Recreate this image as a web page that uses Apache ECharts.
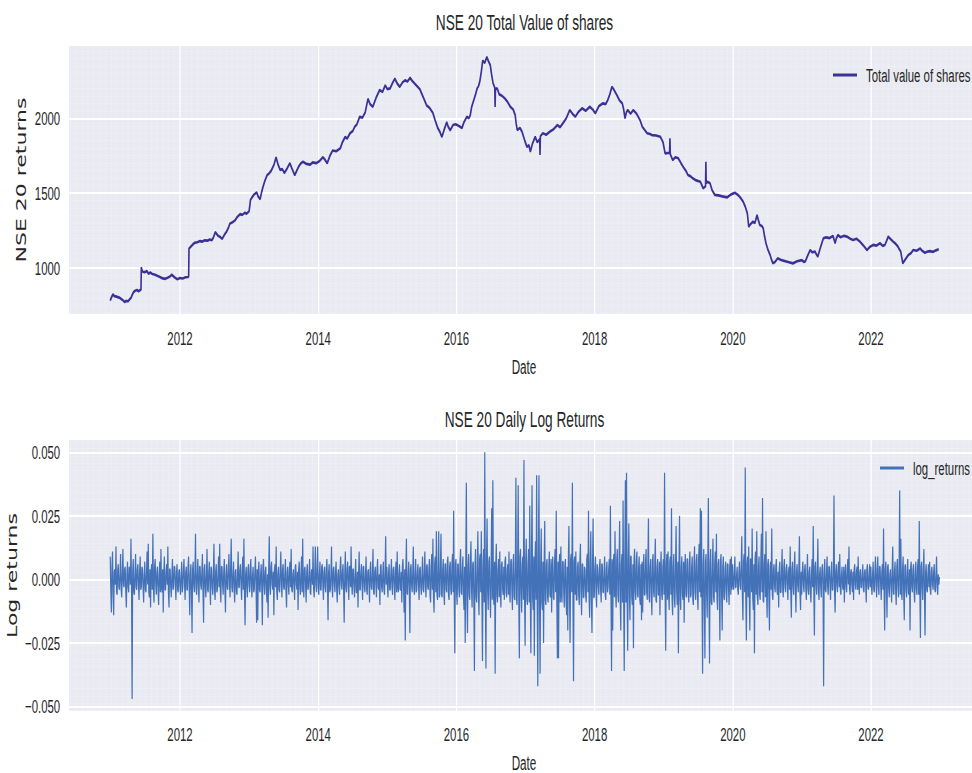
<!DOCTYPE html>
<html><head><meta charset="utf-8">
<script src="https://cdn.jsdelivr.net/npm/echarts@6/dist/echarts.min.js"></script>
<style>
html,body{margin:0;padding:0;background:#fff;overflow:hidden;width:972px;height:773px;}
#chart{width:1620px;height:773px;transform:scaleX(0.6);transform-origin:0 0;}
</style></head><body><div id="chart"></div>
<script>
// ---------------- data ----------------
const tvYears = [
2010.99,2011.00,2011.02,2011.03,2011.05,2011.07,2011.10,2011.13,2011.16,2011.20,
2011.22,2011.25,2011.27,2011.29,2011.31,2011.33,2011.35,2011.38,2011.40,2011.42,
2011.435,2011.44,2011.45,2011.46,2011.49,2011.52,2011.545,2011.57,2011.60,2011.64,
2011.67,2011.71,2011.74,2011.78,2011.82,2011.86,2011.88,2011.92,2011.96,2012.00,
2012.04,2012.08,2012.12,2012.125,2012.13,2012.15,2012.17,2012.195,2012.22,2012.25,
2012.29,2012.32,2012.36,2012.40,2012.43,2012.46,2012.48,2012.51,2012.53,2012.55,
2012.58,2012.61,2012.64,2012.67,2012.70,2012.72,2012.76,2012.80,2012.83,2012.87,
2012.90,2012.94,2012.96,2012.98,2013.00,2013.02,2013.04,2013.07,2013.11,2013.13,
2013.16,2013.18,2013.20,2013.23,2013.26,2013.29,2013.32,2013.36,2013.39,2013.42,
2013.45,2013.48,2013.51,2013.55,2013.59,2013.62,2013.66,2013.69,2013.72,2013.75,
2013.78,2013.83,2013.88,2013.92,2013.97,2014.02,2014.07,2014.10,2014.13,2014.17,
2014.21,2014.26,2014.32,2014.35,2014.39,2014.42,2014.46,2014.50,2014.53,2014.56,
2014.60,2014.64,2014.68,2014.70,2014.72,2014.75,2014.79,2014.84,2014.89,2014.93,
2014.97,2015.00,2015.04,2015.08,2015.11,2015.14,2015.18,2015.22,2015.26,2015.29,
2015.33,2015.36,2015.40,2015.43,2015.47,2015.52,2015.57,2015.61,2015.66,2015.69,
2015.73,2015.76,2015.79,2015.82,2015.86,2015.88,2015.91,2015.95,2015.99,2016.03,
2016.08,2016.11,2016.15,2016.18,2016.20,2016.22,2016.25,2016.28,2016.30,2016.32,
2016.34,2016.36,2016.38,2016.41,2016.44,2016.465,2016.49,2016.51,2016.53,2016.555,
2016.56,2016.565,2016.59,2016.62,2016.66,2016.70,2016.74,2016.78,2016.82,2016.85,
2016.865,2016.88,2016.92,2016.95,2016.99,2017.02,2017.05,2017.07,2017.10,2017.14,
2017.17,2017.205,2017.21,2017.215,2017.25,2017.30,2017.35,2017.40,2017.46,2017.50,
2017.54,2017.59,2017.64,2017.68,2017.72,2017.77,2017.82,2017.87,2017.93,2017.97,
2018.01,2018.06,2018.12,2018.16,2018.19,2018.22,2018.25,2018.28,2018.32,2018.36,
2018.40,2018.42,2018.44,2018.46,2018.48,2018.52,2018.56,2018.60,2018.63,2018.66,
2018.69,2018.72,2018.76,2018.80,2018.83,2018.89,2018.95,2018.99,2019.02,2019.085,
2019.09,2019.095,2019.13,2019.17,2019.21,2019.25,2019.28,2019.32,2019.35,2019.39,
2019.42,2019.47,2019.53,2019.55,2019.57,2019.605,2019.61,2019.615,2019.64,2019.67,
2019.70,2019.74,2019.79,2019.85,2019.92,2019.97,2020.03,2020.07,2020.11,2020.15,
2020.18,2020.21,2020.22,2020.23,2020.26,2020.29,2020.32,2020.35,2020.37,2020.39,
2020.42,2020.44,2020.46,2020.48,2020.51,2020.54,2020.56,2020.58,2020.61,2020.65,
2020.69,2020.73,2020.80,2020.87,2020.93,2021.00,2021.03,2021.05,2021.09,2021.12,
2021.15,2021.19,2021.21,2021.23,2021.27,2021.31,2021.35,2021.40,2021.45,2021.465,
2021.48,2021.50,2021.52,2021.56,2021.61,2021.65,2021.70,2021.74,2021.79,2021.84,
2021.89,2021.94,2021.98,2022.03,2022.08,2022.13,2022.17,2022.20,2022.22,2022.25,
2022.28,2022.32,2022.36,2022.39,2022.41,2022.43,2022.445,2022.46,2022.50,2022.54,
2022.58,2022.61,2022.66,2022.71,2022.74,2022.78,2022.82,2022.85,2022.90,2022.94,
2022.98
];
const tvValues = [
782,795,815,824,812,810,805,800,790,773,
780,778,790,800,822,840,848,853,845,852,
855,1005,985,975,972,980,962,970,960,955,
948,940,932,927,935,945,955,938,925,933,
930,938,940,945,1130,1140,1150,1162,1170,1172,
1180,1176,1185,1183,1190,1185,1200,1240,1228,1215,
1208,1195,1220,1240,1268,1295,1305,1320,1342,1360,
1355,1370,1362,1370,1380,1455,1470,1490,1505,1478,
1460,1505,1540,1585,1620,1632,1650,1690,1740,1690,
1655,1660,1635,1665,1700,1665,1620,1650,1680,1700,
1710,1695,1690,1705,1700,1715,1740,1722,1700,1750,
1785,1780,1800,1840,1875,1865,1900,1915,1945,1960,
2010,2005,2040,2085,2130,2095,2077,2140,2190,2175,
2220,2195,2200,2240,2265,2235,2210,2240,2255,2245,
2270,2250,2230,2215,2195,2140,2085,2070,2035,1990,
1935,1910,1875,1920,1975,1945,1920,1955,1960,1950,
1935,1975,2010,2000,2020,2075,2120,2165,2200,2215,
2250,2310,2385,2370,2410,2380,2355,2290,2235,2205,
2076,2195,2200,2160,2150,2133,2110,2077,2060,2022,
1965,1922,1935,1910,1850,1810,1820,1777,1830,1877,
1840,1860,1755,1880,1900,1890,1910,1925,1955,1940,
1966,2000,2055,2030,2011,2045,2067,2050,2077,2060,
2033,2080,2100,2095,2122,2160,2211,2190,2156,2120,
2100,2060,2000,2040,2055,2030,2055,2035,2011,1985,
1944,1925,1900,1895,1888,1885,1877,1840,1766,1770,
1866,1760,1721,1740,1733,1700,1677,1650,1621,1612,
1599,1585,1576,1555,1532,1545,1710,1570,1575,1566,
1520,1488,1485,1478,1472,1490,1503,1490,1470,1443,
1410,1365,1320,1276,1295,1309,1300,1354,1320,1287,
1280,1265,1210,1165,1120,1087,1055,1031,1040,1065,
1055,1049,1040,1031,1045,1053,1040,1045,1090,1120,
1105,1109,1090,1076,1140,1198,1205,1200,1214,1190,
1165,1200,1220,1205,1215,1210,1195,1187,1195,1176,
1150,1120,1140,1154,1150,1165,1148,1154,1175,1210,
1195,1176,1160,1143,1125,1109,1070,1031,1060,1087,
1100,1120,1115,1131,1115,1102,1110,1113,1108,1118,
1125
];

const logStartYear = 2010.99;
const logEndYear = 2022.99;
const logReturns = [
// 2011
0.009,-0.004,-0.013,0.005,0.011,-0.006,-0.014,0.003,0.004,-0.002,0.013,-0.005,-0.006,0.004,0.006,-0.003,-0.004,0.002,0.010,-0.004,-0.007,0.003,0.012,-0.002,-0.003,0.004,0.005,-0.005,-0.011,0.002,0.007,-0.003,-0.005,0.005,0.003,-0.002,0.016,-0.004,-0.047,0.003,0.008,-0.005,-0.006,0.002,0.010,-0.003,-0.004,0.004,0.006,-0.002,-0.008,0.003,0.009,-0.004,-0.003,0.005,0.004,-0.003,-0.009,0.002,
0.007,-0.004,-0.005,0.003,0.011,-0.002,0.014,-0.005,-0.007,0.004,-0.011,0.003,0.006,-0.004,0.018,-0.003,-0.009,0.005,0.008,-0.002,-0.006,0.003,0.005,-0.004,-0.010,0.002,0.007,-0.005,0.012,-0.003,-0.005,0.004,-0.013,0.002,0.009,-0.004,-0.004,0.003,0.006,-0.002,0.013,-0.005,-0.011,0.004,0.004,-0.003,-0.007,0.002,0.008,-0.004,-0.003,0.005,0.005,-0.002,-0.008,0.003,0.006,-0.004,-0.005,0.003,
// 2012
0.004,-0.003,-0.006,0.002,0.007,-0.005,-0.003,0.004,0.008,-0.002,-0.008,0.003,0.005,-0.004,-0.004,0.005,0.009,-0.003,-0.014,0.002,0.006,-0.005,-0.021,0.004,0.007,-0.002,-0.005,0.003,0.018,-0.004,-0.006,0.002,0.008,-0.003,-0.009,0.005,0.005,-0.002,-0.004,0.003,0.010,-0.005,-0.017,0.004,0.006,-0.003,-0.007,0.002,0.012,-0.004,-0.005,0.003,0.007,-0.002,-0.010,0.005,0.004,-0.003,-0.006,0.002,
0.014,-0.004,-0.008,0.003,0.006,-0.005,-0.004,0.002,0.009,-0.003,0.014,-0.004,-0.009,0.005,0.005,-0.002,-0.006,0.003,0.008,-0.004,-0.013,0.002,0.006,-0.003,-0.004,0.004,0.010,-0.002,-0.007,0.005,0.016,-0.003,-0.005,0.002,0.007,-0.004,-0.009,0.003,0.004,-0.005,-0.006,0.002,0.011,-0.003,-0.003,0.004,0.006,-0.002,-0.008,0.003,0.009,-0.004,0.016,-0.005,-0.018,0.002,0.005,-0.003,-0.007,0.004,
// 2013
0.006,-0.002,-0.005,0.004,0.008,-0.003,-0.007,0.002,0.005,-0.005,-0.004,0.003,0.009,-0.002,-0.017,0.004,-0.016,0.003,0.007,-0.004,-0.005,0.002,0.006,-0.003,-0.018,0.005,0.008,-0.002,-0.006,0.003,0.005,-0.004,-0.009,0.002,-0.015,0.004,0.017,-0.003,-0.006,0.005,0.007,-0.002,-0.004,0.003,-0.014,0.004,0.006,-0.003,0.013,-0.005,-0.008,0.002,0.005,-0.004,-0.005,0.003,0.011,-0.002,-0.007,0.004,
0.006,-0.003,-0.004,0.002,0.008,-0.005,-0.011,0.003,0.005,-0.002,-0.006,0.004,0.007,-0.003,0.012,-0.004,-0.005,0.002,0.004,-0.003,-0.008,0.005,0.006,-0.002,-0.004,0.003,-0.012,0.004,0.007,-0.003,-0.006,0.002,0.009,-0.005,0.016,-0.003,-0.007,0.004,0.005,-0.002,-0.009,0.003,0.006,-0.004,-0.003,0.002,0.008,-0.005,-0.006,0.003,0.004,-0.002,0.013,-0.004,-0.007,0.003,0.013,-0.002,-0.005,0.004,
// 2014
0.013,-0.003,-0.006,0.002,0.007,-0.004,-0.004,0.005,0.006,-0.002,-0.008,0.003,0.005,-0.003,-0.005,0.004,0.008,-0.002,-0.016,0.003,0.006,-0.005,-0.004,0.002,0.013,-0.003,-0.007,0.004,0.005,-0.002,-0.005,0.003,0.007,-0.004,-0.009,0.002,0.004,-0.003,-0.006,0.005,0.009,-0.002,-0.004,0.003,0.006,-0.004,-0.017,0.002,0.011,-0.003,-0.005,0.004,0.007,-0.002,-0.008,0.005,0.005,-0.003,0.013,-0.002,
-0.006,0.004,0.004,-0.003,-0.007,0.002,0.008,-0.005,-0.005,0.003,-0.011,0.002,0.011,-0.004,-0.004,0.003,0.006,-0.002,-0.008,0.005,0.005,-0.003,-0.005,0.002,0.009,-0.004,-0.006,0.003,0.004,-0.002,-0.009,0.004,0.007,-0.003,-0.004,0.002,0.012,-0.005,-0.006,0.003,0.005,-0.002,-0.007,0.004,0.008,-0.003,-0.004,0.002,-0.010,0.005,0.006,-0.003,-0.005,0.002,0.007,-0.004,-0.006,0.003,0.017,-0.002,
// 2015
0.005,-0.002,-0.007,0.003,0.006,-0.004,-0.004,0.002,0.008,-0.003,-0.006,0.004,0.005,-0.002,-0.008,0.003,0.007,-0.005,0.011,-0.003,-0.005,0.002,0.006,-0.004,-0.004,0.003,-0.009,0.005,0.008,-0.002,-0.013,0.004,-0.024,0.003,0.016,-0.005,-0.006,0.002,0.007,-0.003,-0.021,0.004,0.006,-0.002,-0.005,0.003,0.013,-0.004,-0.006,0.002,0.008,-0.005,-0.004,0.003,0.006,-0.002,-0.008,0.004,0.005,-0.003,
-0.006,0.002,0.009,-0.004,-0.005,0.003,0.011,-0.002,-0.007,0.005,0.006,-0.003,-0.004,0.004,0.008,-0.006,-0.009,0.005,0.010,-0.004,0.016,-0.007,-0.013,0.006,0.009,-0.005,0.019,-0.006,-0.008,0.004,0.019,-0.007,-0.006,0.005,0.018,-0.006,-0.007,0.004,0.008,-0.005,-0.010,0.006,0.006,-0.004,-0.005,0.007,0.009,-0.006,-0.008,0.005,0.007,-0.004,-0.006,0.006,0.010,-0.005,0.027,-0.007,-0.029,0.006,
// 2016
0.008,-0.005,-0.010,0.006,0.006,-0.004,-0.007,0.007,0.012,-0.005,-0.006,0.004,0.009,-0.007,-0.012,0.005,-0.025,0.006,0.038,-0.008,-0.021,0.005,0.010,-0.006,-0.008,0.007,0.015,-0.004,-0.011,0.006,0.007,-0.008,-0.036,0.005,0.012,-0.007,-0.009,0.004,0.019,-0.006,-0.014,0.008,0.010,-0.005,0.019,-0.007,-0.032,0.006,0.012,-0.009,0.050,-0.006,-0.035,0.008,0.024,-0.005,-0.012,0.007,0.009,-0.006,
-0.015,0.005,0.028,-0.008,0.039,-0.006,-0.010,0.007,-0.037,0.005,0.014,-0.006,-0.009,0.004,0.008,-0.007,0.011,-0.005,-0.011,0.006,0.007,-0.004,-0.006,0.005,-0.008,0.007,0.009,-0.005,-0.007,0.004,0.006,-0.006,0.011,-0.005,-0.009,0.007,0.008,-0.004,-0.012,0.006,0.010,-0.007,-0.008,0.005,0.040,-0.008,-0.010,0.006,0.037,-0.007,-0.031,0.009,0.012,-0.005,-0.013,0.006,0.009,-0.008,0.047,-0.006,
// 2017
-0.026,0.007,0.016,-0.008,-0.010,0.006,0.012,-0.009,0.029,-0.006,-0.029,0.008,0.037,-0.007,-0.012,0.009,-0.030,0.006,0.015,-0.008,0.041,-0.010,-0.042,0.007,0.041,-0.008,-0.037,0.006,0.020,-0.009,-0.012,0.007,-0.025,0.005,0.023,-0.008,-0.010,0.006,0.008,-0.007,-0.009,0.005,0.011,-0.006,-0.007,0.008,-0.013,0.005,0.009,-0.007,-0.008,0.006,0.012,-0.005,0.027,-0.008,-0.031,0.007,-0.031,0.006,
0.010,-0.009,0.013,-0.006,-0.009,0.007,0.007,-0.005,-0.011,0.006,0.008,-0.008,-0.014,0.005,-0.020,0.007,0.021,-0.006,-0.025,0.008,0.010,-0.005,0.038,-0.009,-0.040,0.007,0.009,-0.006,0.011,-0.008,-0.008,0.005,0.007,-0.006,-0.010,0.007,0.014,-0.005,-0.014,0.006,0.006,-0.007,-0.007,0.005,0.004,-0.006,-0.009,0.008,0.010,-0.005,0.027,-0.007,-0.015,0.006,0.019,-0.008,-0.021,0.006,0.024,-0.007,
// 2018
-0.007,0.004,0.009,-0.005,-0.011,0.006,0.004,-0.003,-0.006,0.005,0.008,-0.004,-0.009,0.006,0.006,-0.005,-0.005,0.003,0.009,-0.006,-0.008,0.004,0.007,-0.005,-0.003,0.004,0.008,-0.006,0.029,-0.007,-0.036,0.008,-0.020,0.006,0.010,-0.007,0.019,-0.005,-0.011,0.008,0.012,-0.006,-0.009,0.007,0.023,-0.008,-0.020,0.006,0.010,-0.009,0.031,-0.007,-0.036,0.008,0.039,-0.009,0.042,-0.007,-0.028,0.008,
0.022,-0.006,-0.016,0.009,0.009,-0.007,-0.010,0.006,-0.027,0.008,0.012,-0.005,-0.008,0.007,0.011,-0.006,-0.007,0.005,0.009,-0.008,-0.010,0.006,-0.016,0.007,-0.013,0.005,0.010,-0.006,-0.006,0.007,0.012,-0.005,-0.008,0.006,0.024,-0.007,-0.009,0.005,0.008,-0.006,-0.014,0.007,0.010,-0.005,-0.007,0.006,0.016,-0.008,-0.009,0.005,0.008,-0.006,-0.006,0.007,-0.014,0.005,0.011,-0.006,-0.008,0.005,
// 2019
0.008,-0.006,0.042,-0.007,-0.028,0.006,0.010,-0.008,0.011,-0.005,-0.012,0.007,0.009,-0.006,0.028,-0.008,-0.014,0.005,0.010,-0.007,-0.011,0.006,0.021,-0.005,-0.010,0.007,-0.029,0.006,0.025,-0.008,-0.012,0.005,0.009,-0.006,-0.008,0.007,-0.017,0.005,0.010,-0.006,-0.007,0.008,0.008,-0.005,-0.009,0.006,0.011,-0.007,-0.006,0.005,0.009,-0.008,-0.010,0.006,0.013,-0.005,-0.008,0.007,0.010,-0.006,
-0.012,0.008,0.014,-0.005,0.028,-0.007,0.027,-0.009,-0.037,0.006,0.012,-0.008,-0.031,0.007,0.010,-0.006,-0.015,0.008,0.032,-0.007,-0.033,0.006,0.012,-0.009,-0.010,0.005,0.016,-0.007,-0.009,0.006,0.011,-0.005,0.018,-0.008,-0.012,0.006,0.008,-0.005,-0.024,0.007,0.010,-0.006,-0.020,0.005,0.009,-0.007,-0.008,0.004,0.007,-0.005,-0.009,0.006,0.006,-0.004,-0.010,0.005,0.008,-0.006,0.009,-0.004,
// 2020
0.006,-0.002,-0.004,0.003,0.009,-0.003,-0.003,0.002,0.005,-0.004,-0.006,0.003,0.007,-0.002,-0.004,0.005,0.017,-0.006,-0.016,0.007,0.010,-0.005,0.044,-0.008,-0.024,0.006,0.009,-0.007,0.013,-0.006,-0.020,0.008,0.008,-0.005,0.020,-0.007,-0.012,0.006,-0.029,0.008,0.011,-0.006,0.019,-0.007,-0.010,0.005,0.009,-0.006,-0.008,0.007,0.018,-0.005,0.032,-0.008,-0.009,0.006,0.010,-0.007,0.019,-0.005,
-0.015,0.006,0.008,-0.007,-0.020,0.005,0.007,-0.004,0.020,-0.006,-0.008,0.004,0.006,-0.003,-0.005,0.005,0.008,-0.004,-0.006,0.003,-0.011,0.004,0.007,-0.005,-0.005,0.003,0.012,-0.004,-0.007,0.005,0.008,-0.003,-0.005,0.004,0.006,-0.002,-0.008,0.003,0.005,-0.004,0.013,-0.005,-0.015,0.004,0.007,-0.003,-0.006,0.005,0.011,-0.004,-0.013,0.003,0.006,-0.002,-0.005,0.004,0.017,-0.005,-0.012,0.003,
// 2021
-0.006,0.003,0.007,-0.002,-0.005,0.004,0.006,-0.003,-0.008,0.002,0.010,-0.004,-0.006,0.003,0.005,-0.005,-0.009,0.002,0.008,-0.003,0.021,-0.004,-0.022,0.005,0.007,-0.002,-0.006,0.003,0.016,-0.004,-0.008,0.002,0.005,-0.003,-0.007,0.004,0.006,-0.002,-0.042,0.003,0.008,-0.004,-0.005,0.002,0.009,-0.003,-0.006,0.005,0.005,-0.002,-0.008,0.003,0.007,-0.004,-0.004,0.002,0.033,-0.005,-0.013,0.003,
0.006,-0.002,-0.005,0.004,0.007,-0.003,0.010,-0.004,-0.006,0.002,0.005,-0.003,-0.004,0.005,-0.009,0.002,0.006,-0.003,-0.005,0.004,0.008,-0.002,0.013,-0.004,-0.006,0.003,0.004,-0.002,-0.005,0.003,-0.008,0.004,0.006,-0.002,-0.004,0.003,0.005,-0.004,0.009,-0.002,-0.006,0.003,0.004,-0.003,-0.003,0.002,0.006,-0.004,-0.005,0.003,0.004,-0.002,-0.009,0.004,0.006,-0.003,-0.004,0.002,0.006,-0.003,
// 2022
0.005,-0.003,-0.006,0.002,0.007,-0.004,-0.005,0.003,0.009,-0.002,-0.007,0.004,0.009,-0.003,-0.006,0.005,0.005,-0.002,-0.008,0.003,0.006,-0.004,0.020,-0.005,-0.020,0.004,0.007,-0.003,-0.015,0.005,0.006,-0.004,-0.007,0.002,0.004,-0.003,-0.009,0.004,0.013,-0.005,-0.006,0.003,0.007,-0.004,-0.010,0.005,0.008,-0.003,-0.007,0.004,0.035,-0.006,0.016,-0.005,-0.008,0.004,0.009,-0.006,-0.016,0.005,
0.006,-0.004,-0.007,0.003,0.008,-0.005,-0.006,0.004,-0.020,0.005,0.007,-0.003,-0.005,0.004,0.006,-0.005,-0.009,0.003,0.007,-0.004,-0.006,0.005,0.008,-0.006,0.023,-0.004,-0.023,0.005,0.007,-0.003,-0.008,0.004,0.012,-0.005,-0.022,0.003,0.006,-0.004,-0.005,0.002,0.006,-0.003,0.007,-0.004,-0.006,0.003,0.005,-0.002,-0.004,0.003,0.006,-0.004,-0.005,0.002,0.009,-0.003,-0.006,0.002,-0.002,0.001
];
const logTicks = [-0.05, -0.025, 0, 0.025, 0.05];

// ---------------- layout (page is drawn 1/0.6 wide, then squeezed horizontally) ----------------
const S = 0.6;
const FONT = "'Liberation Sans', Arial, Helvetica, sans-serif";
const TXT = '#262626';
const X_MIN = 2010.379, X_MAX = 2023.577;
const TOP_COLOR = '#3b3197', LOG_COLOR = '#4472b9';

const tvData = tvYears.map((y, i) => [y, tvValues[i]]);
const logStep = (logEndYear - logStartYear) / (logReturns.length - 1);
const logData = logReturns.map((v, i) => [logStartYear + i * logStep, v]);

function xAxisCfg(gi) {
  return {
    type: 'value', gridIndex: gi, min: X_MIN, max: X_MAX, splitNumber: 6,
    name: 'Date', nameLocation: 'middle', nameGap: 42,
    nameTextStyle: { fontFamily: FONT, fontSize: 19.5, color: TXT },
    axisLine: { show: false }, axisTick: { show: false },
    axisLabel: { fontFamily: FONT, fontSize: 19, color: TXT, margin: 14,
      formatter: v => (Math.abs(v - Math.round(v)) < 1e-6 ? String(Math.round(v)) : '') },
    splitLine: { show: true, lineStyle: { color: '#ffffff', width: 2 } },
    minorTick: { show: false, splitNumber: 24 },
    minorSplitLine: { show: true, lineStyle: { color: 'rgba(255,255,255,0.6)', width: 0.8, type: 'dotted' } }
  };
}

const chart = echarts.init(document.getElementById('chart'), null, { renderer: 'svg' });
chart.setOption({
  animation: false,
  backgroundColor: '#ffffff',
  title: [
    { text: 'NSE 20 Total Value of shares', left: 524.5 / S, top: 11, textAlign: 'center', padding: 0,
      textStyle: { fontFamily: FONT, fontSize: 22.8, fontWeight: 'normal', color: TXT } },
    { text: 'NSE 20 Daily Log Returns', left: 524.5 / S, top: 407.5, textAlign: 'center', padding: 0,
      textStyle: { fontFamily: FONT, fontSize: 22.8, fontWeight: 'normal', color: TXT } }
  ],
  legend: [
    { data: ['Total value of shares'], left: 833 / S, top: 65.5, padding: 0, itemWidth: 40, itemHeight: 3, icon: 'rect',
      textStyle: { fontFamily: FONT, fontSize: 19, color: TXT, padding: [0, 0, 0, 10] } },
    { data: ['log_returns'], left: 880 / S, top: 458.5, padding: 0, itemWidth: 40, itemHeight: 3, icon: 'rect',
      textStyle: { fontFamily: FONT, fontSize: 19, color: TXT, padding: [0, 0, 0, 10] } }
  ],
  grid: [
    { left: 68 / S, right: -8 / S, top: 45, height: 270, show: true, backgroundColor: '#eaeaf2', borderWidth: 0, containLabel: false, outerBoundsMode: 'none' },
    { left: 68 / S, right: -8 / S, top: 440, height: 271, show: true, backgroundColor: '#eaeaf2', borderWidth: 0, containLabel: false, outerBoundsMode: 'none' }
  ],
  xAxis: [xAxisCfg(0), xAxisCfg(1)],
  yAxis: [
    { type: 'value', gridIndex: 0, min: 686, max: 2489.6, splitNumber: 4,
      name: 'NSE 20 returns', nameLocation: 'middle', nameGap: 63,
      nameTextStyle: { fontFamily: 'DejaVu Sans', fontSize: 22, color: TXT },
      axisLine: { show: false }, axisTick: { show: false },
      axisLabel: { fontFamily: FONT, fontSize: 19, color: TXT, margin: 13,
        formatter: v => (Math.abs(v % 500) < 1e-6 ? String(v) : '') },
      splitLine: { show: true, lineStyle: { color: '#ffffff', width: 2 } },
      minorTick: { show: false, splitNumber: 10 },
      minorSplitLine: { show: true, lineStyle: { color: 'rgba(255,255,255,0.6)', width: 0.8, type: 'dotted' } } },
    { type: 'value', gridIndex: 1, min: -0.05169, max: 0.05483,
      name: 'Log returns', nameLocation: 'middle', nameGap: 80,
      nameTextStyle: { fontFamily: 'DejaVu Sans', fontSize: 22, color: TXT },
      axisLine: { show: false }, axisTick: { show: false, customValues: logTicks },
      axisLabel: { fontFamily: FONT, fontSize: 19, color: TXT, margin: 13, customValues: logTicks,
        formatter: v => (v < -1e-9 ? '\u2212' : '') + Math.abs(v).toFixed(3) },
      splitLine: { show: true, lineStyle: { color: '#ffffff', width: 2 } },
      minorTick: { show: false, splitNumber: 7 },
      minorSplitLine: { show: true, lineStyle: { color: 'rgba(255,255,255,0.6)', width: 0.8, type: 'dotted' } } }
  ],
  series: [
    { name: 'Total value of shares', type: 'line', xAxisIndex: 0, yAxisIndex: 0, data: tvData,
      showSymbol: false, symbol: 'none', color: TOP_COLOR,
      itemStyle: { color: TOP_COLOR }, lineStyle: { color: TOP_COLOR, width: 2.7 } },
    { name: 'log_returns', type: 'line', xAxisIndex: 1, yAxisIndex: 1, data: logData,
      showSymbol: false, symbol: 'none', color: LOG_COLOR,
      itemStyle: { color: LOG_COLOR }, lineStyle: { color: LOG_COLOR, width: 2.0 } }
  ]
});
</script></body></html>
